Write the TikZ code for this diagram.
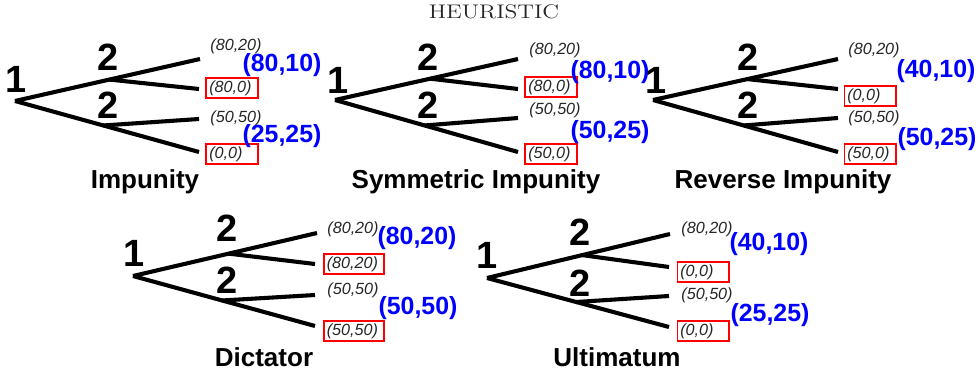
\documentclass[tikz,border=0pt]{standalone}
\usepackage{fontspec}
\setsansfont{Liberation Sans}
\usetikzlibrary{calc}

\begin{document}
\begin{tikzpicture}[
    x=0.025cm,
    y=-0.025cm,
    heading/.style={
        font=\fontsize{14}{16}\selectfont,
        text=black!85,
        inner sep=0pt,
    },
    branch/.style={
        line width=2.9pt,
    },
    player/.style={
        font=\sffamily\bfseries\fontsize{27}{27}\selectfont,
        inner sep=0pt,
    },
    payoff/.style={
        font=\sffamily\itshape\fontsize{11.5}{12}\selectfont,
        text=black!85,
        inner sep=0pt,
    },
    chosen/.style={
        payoff,
        draw=red,
        line width=1.4pt,
        text width=32.3pt,
        align=left,
        minimum height=14.2pt,
        inner xsep=2pt,
        inner ysep=0pt,
    },
    expected/.style={
        font=\sffamily\bfseries\fontsize{17.7}{18}\selectfont,
        text=blue,
        inner sep=0pt,
    },
    game/.style={
        font=\sffamily\bfseries\fontsize{18.5}{19}\selectfont,
        inner sep=0pt,
    },
]
    \useasboundingbox (0,0) rectangle (980,373);

    \node[heading] (title) at (494,12) {\scalebox{1.2}[1]{HEURISTIC}};

    % Impunity
    \coordinate (impRoot) at (15,101);
    \coordinate (impA) at (200,59);
    \coordinate (impB) at (199,89);
    \coordinate (impC) at (199,119);
    \coordinate (impD) at (199,152);
    \coordinate (impUp) at ($(impRoot)!0.51!(impA)$);
    \coordinate (impLo) at ($(impRoot)!0.48!(impD)$);
    \node[player] (impOne) at (16,79) {1};
    \node[player] (impTwoUp) at (108,57) {2};
    \node[player] (impTwoLo) at (108,105) {2};
    \draw[branch] (impRoot) -- (impA);
    \draw[branch] (impUp) -- (impB);
    \draw[branch] (impRoot) -- (impD);
    \draw[branch] (impLo) -- (impC);
    \node[payoff] (impPayA) at (236,46) {(80,20)};
    \node[chosen] (impPayB) at (232,88) {(80,0)};
    \node[payoff] (impPayC) at (236,118) {(50,50)};
    \node[chosen] (impPayD) at (232,154) {(0,0)};
    \node[expected] (impExpUp) at (282,65) {(80,10)};
    \node[expected] (impExpLo) at (282,136) {(25,25)};
    \node[game] (impName) at (145,182) {Impunity};

    % Symmetric Impunity
    \coordinate (symRoot) at (335,100);
    \coordinate (symA) at (518,59);
    \coordinate (symB) at (518,89);
    \coordinate (symC) at (518,118);
    \coordinate (symD) at (518,152);
    \coordinate (symUp) at ($(symRoot)!0.52!(symA)$);
    \coordinate (symLo) at ($(symRoot)!0.49!(symD)$);
    \node[player] (symOne) at (338,80) {1};
    \node[player] (symTwoUp) at (428,57) {2};
    \node[player] (symTwoLo) at (428,105) {2};
    \draw[branch] (symRoot) -- (symA);
    \draw[branch] (symUp) -- (symB);
    \draw[branch] (symRoot) -- (symD);
    \draw[branch] (symLo) -- (symC);
    \node[payoff] (symPayA) at (555,50) {(80,20)};
    \node[chosen] (symPayB) at (551,87) {(80,0)};
    \node[payoff] (symPayC) at (555,110) {(50,50)};
    \node[chosen] (symPayD) at (551,154) {(50,0)};
    \node[expected] (symExpUp) at (610,72) {(80,10)};
    \node[expected] (symExpLo) at (610,132) {(50,25)};
    \node[game] (symName) at (476,182) {Symmetric Impunity};

    % Reverse Impunity
    \coordinate (revRoot) at (653,100);
    \coordinate (revA) at (838,59);
    \coordinate (revB) at (838,89);
    \coordinate (revC) at (838,118);
    \coordinate (revD) at (838,152);
    \coordinate (revUp) at ($(revRoot)!0.51!(revA)$);
    \coordinate (revLo) at ($(revRoot)!0.49!(revD)$);
    \node[player] (revOne) at (656,80) {1};
    \node[player] (revTwoUp) at (748,57) {2};
    \node[player] (revTwoLo) at (748,105) {2};
    \draw[branch] (revRoot) -- (revA);
    \draw[branch] (revUp) -- (revB);
    \draw[branch] (revRoot) -- (revD);
    \draw[branch] (revLo) -- (revC);
    \node[payoff] (revPayA) at (874,50) {(80,20)};
    \node[chosen] (revPayB) at (870,96) {(0,0)};
    \node[payoff] (revPayC) at (874,118) {(50,50)};
    \node[chosen] (revPayD) at (870,154) {(50,0)};
    \node[expected] (revExpUp) at (936,71) {(40,10)};
    \node[expected] (revExpLo) at (937,139) {(50,25)};
    \node[game] (revName) at (783,182) {Reverse Impunity};

    % Dictator
    \coordinate (dicRoot) at (133,276);
    \coordinate (dicA) at (317,233);
    \coordinate (dicB) at (315,264);
    \coordinate (dicC) at (315,295);
    \coordinate (dicD) at (315,326);
    \coordinate (dicUp) at ($(dicRoot)!0.52!(dicA)$);
    \coordinate (dicLo) at ($(dicRoot)!0.49!(dicD)$);
    \node[player] (dicOne) at (134,253) {1};
    \node[player] (dicTwoUp) at (227,228) {2};
    \node[player] (dicTwoLo) at (227,280) {2};
    \draw[branch] (dicRoot) -- (dicA);
    \draw[branch] (dicUp) -- (dicB);
    \draw[branch] (dicRoot) -- (dicD);
    \draw[branch] (dicLo) -- (dicC);
    \node[payoff] (dicPayA) at (353,229) {(80,20)};
    \node[chosen, text width=38.7pt] (dicPayB) at (354,264) {(80,20)};
    \node[payoff] (dicPayC) at (353,290) {(50,50)};
    \node[chosen, text width=38.7pt] (dicPayD) at (354,331) {(50,50)};
    \node[expected] (dicExpUp) at (417,238) {(80,20)};
    \node[expected] (dicExpLo) at (418,308) {(50,50)};
    \node[game] (dicName) at (264,357) {Dictator};

    % Ultimatum
    \coordinate (ultRoot) at (487,278);
    \coordinate (ultA) at (670,234);
    \coordinate (ultB) at (669,267);
    \coordinate (ultC) at (669,296);
    \coordinate (ultD) at (669,327);
    \coordinate (ultUp) at ($(ultRoot)!0.52!(ultA)$);
    \coordinate (ultLo) at ($(ultRoot)!0.49!(ultD)$);
    \node[player] (ultOne) at (487,255) {1};
    \node[player] (ultTwoUp) at (580,232) {2};
    \node[player] (ultTwoLo) at (580,283) {2};
    \draw[branch] (ultRoot) -- (ultA);
    \draw[branch] (ultUp) -- (ultB);
    \draw[branch] (ultRoot) -- (ultD);
    \draw[branch] (ultLo) -- (ultC);
    \node[payoff] (ultPayA) at (707,229) {(80,20)};
    \node[chosen] (ultPayB) at (703,272) {(0,0)};
    \node[payoff] (ultPayC) at (707,295) {(50,50)};
    \node[chosen] (ultPayD) at (703,331) {(0,0)};
    \node[expected] (ultExpUp) at (769,244) {(40,10)};
    \node[expected] (ultExpLo) at (770,315) {(25,25)};
    \node[game] (ultName) at (617,357) {Ultimatum};

\end{tikzpicture}
\end{document}
